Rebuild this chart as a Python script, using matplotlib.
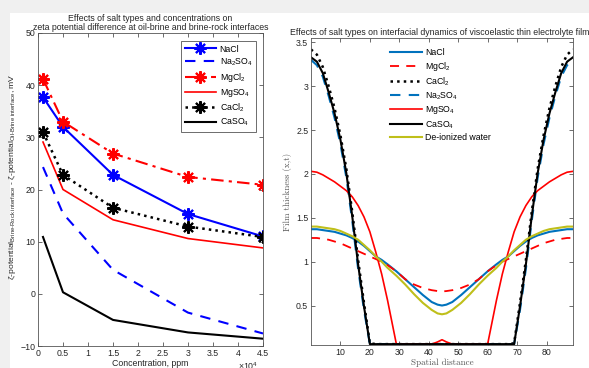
import matplotlib
matplotlib.use('Agg')
import matplotlib.pyplot as plt
from matplotlib.patches import Rectangle
from matplotlib.ticker import FuncFormatter

plt.rcParams['font.family'] = ['Liberation Sans', 'DejaVu Sans']
plt.rcParams['mathtext.fontset'] = 'custom'
plt.rcParams['mathtext.rm'] = 'Liberation Sans'
plt.rcParams['mathtext.it'] = 'Liberation Sans:italic'
plt.rcParams['mathtext.default'] = 'regular'

# zeta potential difference vs concentration (ppm)
conc = [1000, 5000, 15000, 30000, 45000]
zeta_nacl = [37.7, 32.0, 22.8, 15.3, 11.0]
zeta_na2so4 = [24.3, 15.4, 4.6, -3.6, -7.6]
zeta_mgcl2 = [41.2, 33.0, 26.9, 22.4, 20.9]
zeta_mgso4 = [29.1, 20.0, 14.2, 10.6, 8.8]
zeta_cacl2 = [31.0, 22.8, 16.5, 12.9, 10.9]
zeta_caso4 = [10.9, 0.3, -5.0, -7.4, -8.6]

# film thickness profiles along the spatial coordinate
dist = [0, 2, 4, 6, 8, 10, 12, 14, 16, 18, 20, 22, 24, 26, 29, 32, 35, 38, 41, 43, 44.5,
        46, 48, 51, 54, 57, 60, 63, 65, 67, 69, 71, 73, 75, 77, 79, 81, 83, 85, 87, 89]
h_nacl = [1.37, 1.37, 1.36, 1.35, 1.34, 1.32, 1.30, 1.27, 1.23, 1.18, 1.12, 1.06, 1.02, 0.97,
          0.89, 0.80, 0.71, 0.62, 0.54, 0.51, 0.50,
          0.51, 0.54, 0.62, 0.71, 0.80, 0.89, 0.97, 1.02, 1.06, 1.12, 1.18, 1.23, 1.27, 1.30,
          1.32, 1.34, 1.35, 1.36, 1.37, 1.37]
h_mgcl2 = [1.27, 1.27, 1.26, 1.25, 1.23, 1.21, 1.18, 1.15, 1.12, 1.09, 1.06, 1.03, 1.00, 0.96,
           0.89, 0.80, 0.74, 0.70, 0.675, 0.665, 0.66,
           0.665, 0.675, 0.70, 0.74, 0.80, 0.89, 0.96, 1.00, 1.03, 1.06, 1.09, 1.12, 1.15, 1.18,
           1.21, 1.23, 1.25, 1.26, 1.27, 1.27]
h_cacl2 = [3.42, 3.36, 3.22, 3.00, 2.75, 2.44, 2.06, 1.57, 1.02, 0.53, 0.07, 0.06, 0.06, 0.06,
           0.06, 0.06, 0.06, 0.06, 0.06, 0.06, 0.06,
           0.06, 0.06, 0.06, 0.06, 0.06, 0.06, 0.06, 0.06, 0.06, 0.07, 0.53, 1.02, 1.57, 2.06,
           2.44, 2.75, 3.00, 3.22, 3.36, 3.42]
h_na2so4 = [3.30, 3.24, 3.11, 2.89, 2.64, 2.34, 1.96, 1.47, 0.92, 0.45, 0.06, 0.06, 0.06, 0.06,
            0.06, 0.06, 0.06, 0.06, 0.06, 0.06, 0.06,
            0.06, 0.06, 0.06, 0.06, 0.06, 0.06, 0.06, 0.06, 0.06, 0.06, 0.45, 0.92, 1.47, 1.96,
            2.34, 2.64, 2.89, 3.11, 3.24, 3.30]
h_mgso4 = [2.03, 2.02, 1.99, 1.95, 1.91, 1.86, 1.81, 1.74, 1.64, 1.51, 1.34, 1.11, 0.86, 0.56,
           0.06, 0.06, 0.06, 0.06, 0.06, 0.085, 0.11,
           0.085, 0.06, 0.06, 0.06, 0.06, 0.06, 0.56, 0.86, 1.11, 1.34, 1.51, 1.64, 1.74, 1.81,
           1.86, 1.91, 1.95, 1.99, 2.02, 2.03]
h_caso4 = [3.33, 3.28, 3.15, 2.93, 2.69, 2.39, 2.01, 1.52, 0.97, 0.49, 0.06, 0.06, 0.06, 0.06,
           0.06, 0.06, 0.06, 0.06, 0.06, 0.06, 0.06,
           0.06, 0.06, 0.06, 0.06, 0.06, 0.06, 0.06, 0.06, 0.06, 0.06, 0.49, 0.97, 1.52, 2.01,
           2.39, 2.69, 2.93, 3.15, 3.28, 3.33]
h_water = [1.40, 1.40, 1.39, 1.38, 1.37, 1.35, 1.32, 1.29, 1.25, 1.19, 1.13, 1.06, 1.00, 0.93,
           0.84, 0.74, 0.63, 0.53, 0.45, 0.41, 0.40,
           0.41, 0.45, 0.53, 0.63, 0.74, 0.84, 0.93, 1.00, 1.06, 1.13, 1.19, 1.25, 1.29, 1.32,
           1.35, 1.37, 1.38, 1.39, 1.40, 1.40]

AX_COLOR = '#555555'
TXT_COLOR = '#262626'
FS = 6.3
ML_BLUE = '#0072BD'
OLIVE = '#BFBF1A'
STAR = (8, 2, 0)

fig = plt.figure(figsize=(5.89, 3.68), dpi=100, facecolor='white')
fig.patches.append(Rectangle((0, 1 - 13 / 368), 1, 13 / 368, transform=fig.transFigure,
                             facecolor='#f0f0f0', edgecolor='none', zorder=-5))
fig.patches.append(Rectangle((0, 0), 10 / 589, 1, transform=fig.transFigure,
                             facecolor='#f0f0f0', edgecolor='none', zorder=-5))


def style_axes(ax):
    for s in ax.spines.values():
        s.set_color(AX_COLOR)
        s.set_linewidth(0.6)
    ax.tick_params(direction='in', length=3, width=0.6, color=AX_COLOR,
                   labelcolor=TXT_COLOR, labelsize=FS, top=True, right=True, pad=2)


# left panel
ax1 = fig.add_axes([38 / 589, 22 / 368, 225 / 589, 313 / 368])
ax1.plot(conc, zeta_nacl, color='b', ls='-', lw=1.5, marker=STAR, ms=9, mew=1.5, label='NaCl')
ax1.plot(conc, zeta_na2so4, color='b', ls=(0, (5, 4)), lw=1.5, label='Na$_2$SO$_4$')
ax1.plot(conc, zeta_mgcl2, color='r', ls=(0, (6, 2.5, 1.5, 2.5)), lw=1.5, marker=STAR, ms=9,
         mew=1.5, label='MgCl$_2$')
ax1.plot(conc, zeta_mgso4, color='r', ls='-', lw=1.2, label='MgSO$_4$')
ax1.plot(conc, zeta_cacl2, color='k', ls=':', lw=1.8, marker=STAR, ms=9, mew=1.5, label='CaCl$_2$')
ax1.plot(conc, zeta_caso4, color='k', ls='-', lw=1.5, label='CaSO$_4$')
ax1.set_xlim(0, 45000)
ax1.set_ylim(-10, 50)
ax1.set_xticks([0, 5000, 10000, 15000, 20000, 25000, 30000, 35000, 40000, 45000])
ax1.set_yticks([-10, 0, 10, 20, 30, 40, 50])
ax1.xaxis.set_major_formatter(FuncFormatter(lambda v, p: f'{v / 1e4:g}'))
style_axes(ax1)
ax1.text(0.978, -0.045, r'$\times$10$^4$', transform=ax1.transAxes, ha='right', va='top',
         fontsize=FS, color=TXT_COLOR)
ax1.set_title('Effects of salt types and concentrations on\n'
              'zeta potential difference at oil-brine and brine-rock interfaces',
              fontsize=FS, color=TXT_COLOR, pad=2, linespacing=1.1)
ax1.set_xlabel('Concentration, ppm', fontsize=FS, color=TXT_COLOR, labelpad=1)
ax1.set_ylabel(r'ζ-potential$_{Brine\text{-}Rock\ interface}$ - '
               r'ζ-potential$_{Oil\text{-}Brine\ interface}$, mV',
               fontsize=6.1, color=TXT_COLOR)
ax1.yaxis.set_label_coords(-0.09, 0.54)
leg1 = ax1.legend(loc='upper right', bbox_to_anchor=(1 - 7 / 225, 1 - 8 / 313),
                  borderaxespad=0, fontsize=FS, handlelength=3.6, labelspacing=0.33,
                  fancybox=False, edgecolor=AX_COLOR, framealpha=1, borderpad=0.4,
                  handletextpad=0.4)
leg1.get_frame().set_linewidth(0.6)

# right panel
ax2 = fig.add_axes([311 / 589, 23 / 368, 262 / 589, 307 / 368])
ax2.plot(dist, h_nacl, color=ML_BLUE, ls='-', lw=1.5, label='NaCl')
ax2.plot(dist, h_mgcl2, color='r', ls=(0, (5, 4)), lw=1.3, label='MgCl$_2$')
ax2.plot(dist, h_cacl2, color='k', ls=':', lw=1.8, label='CaCl$_2$')
ax2.plot(dist, h_na2so4, color=ML_BLUE, ls=(0, (5, 4)), lw=1.5, label='Na$_2$SO$_4$')
ax2.plot(dist, h_mgso4, color='r', ls='-', lw=1.2, label='MgSO$_4$')
ax2.plot(dist, h_caso4, color='k', ls='-', lw=1.5, label='CaSO$_4$')
ax2.plot(dist, h_water, color=OLIVE, ls='-', lw=1.5, label='De-ionized water')
ax2.set_xlim(0, 89)
ax2.set_ylim(0.05, 3.55)
ax2.set_xticks([10, 20, 30, 40, 50, 60, 70, 80])
ax2.set_yticks([0.5, 1, 1.5, 2, 2.5, 3, 3.5])
ax2.yaxis.set_major_formatter(FuncFormatter(lambda v, p: f'{v:g}'))
style_axes(ax2)
ax2.set_title('Effects of salt types on interfacial dynamics of viscoelastic thin electrolyte films',
              fontsize=FS, color=TXT_COLOR, pad=2)
ax2.set_xlabel('Spatial distance', family='cmr10', fontsize=6.5, color='#555555', labelpad=1)
ax2.set_ylabel('Film thickness (x,t)', family='cmr10', fontsize=6.5, color='#555555', labelpad=3)
ax2.legend(loc='upper left', bbox_to_anchor=(79 / 262, 1 - 10 / 307), borderaxespad=0,
           borderpad=0, frameon=False, fontsize=FS, handlelength=3.6, labelspacing=0.3,
           handletextpad=0.4)

fig.savefig('out.png', dpi=100)
